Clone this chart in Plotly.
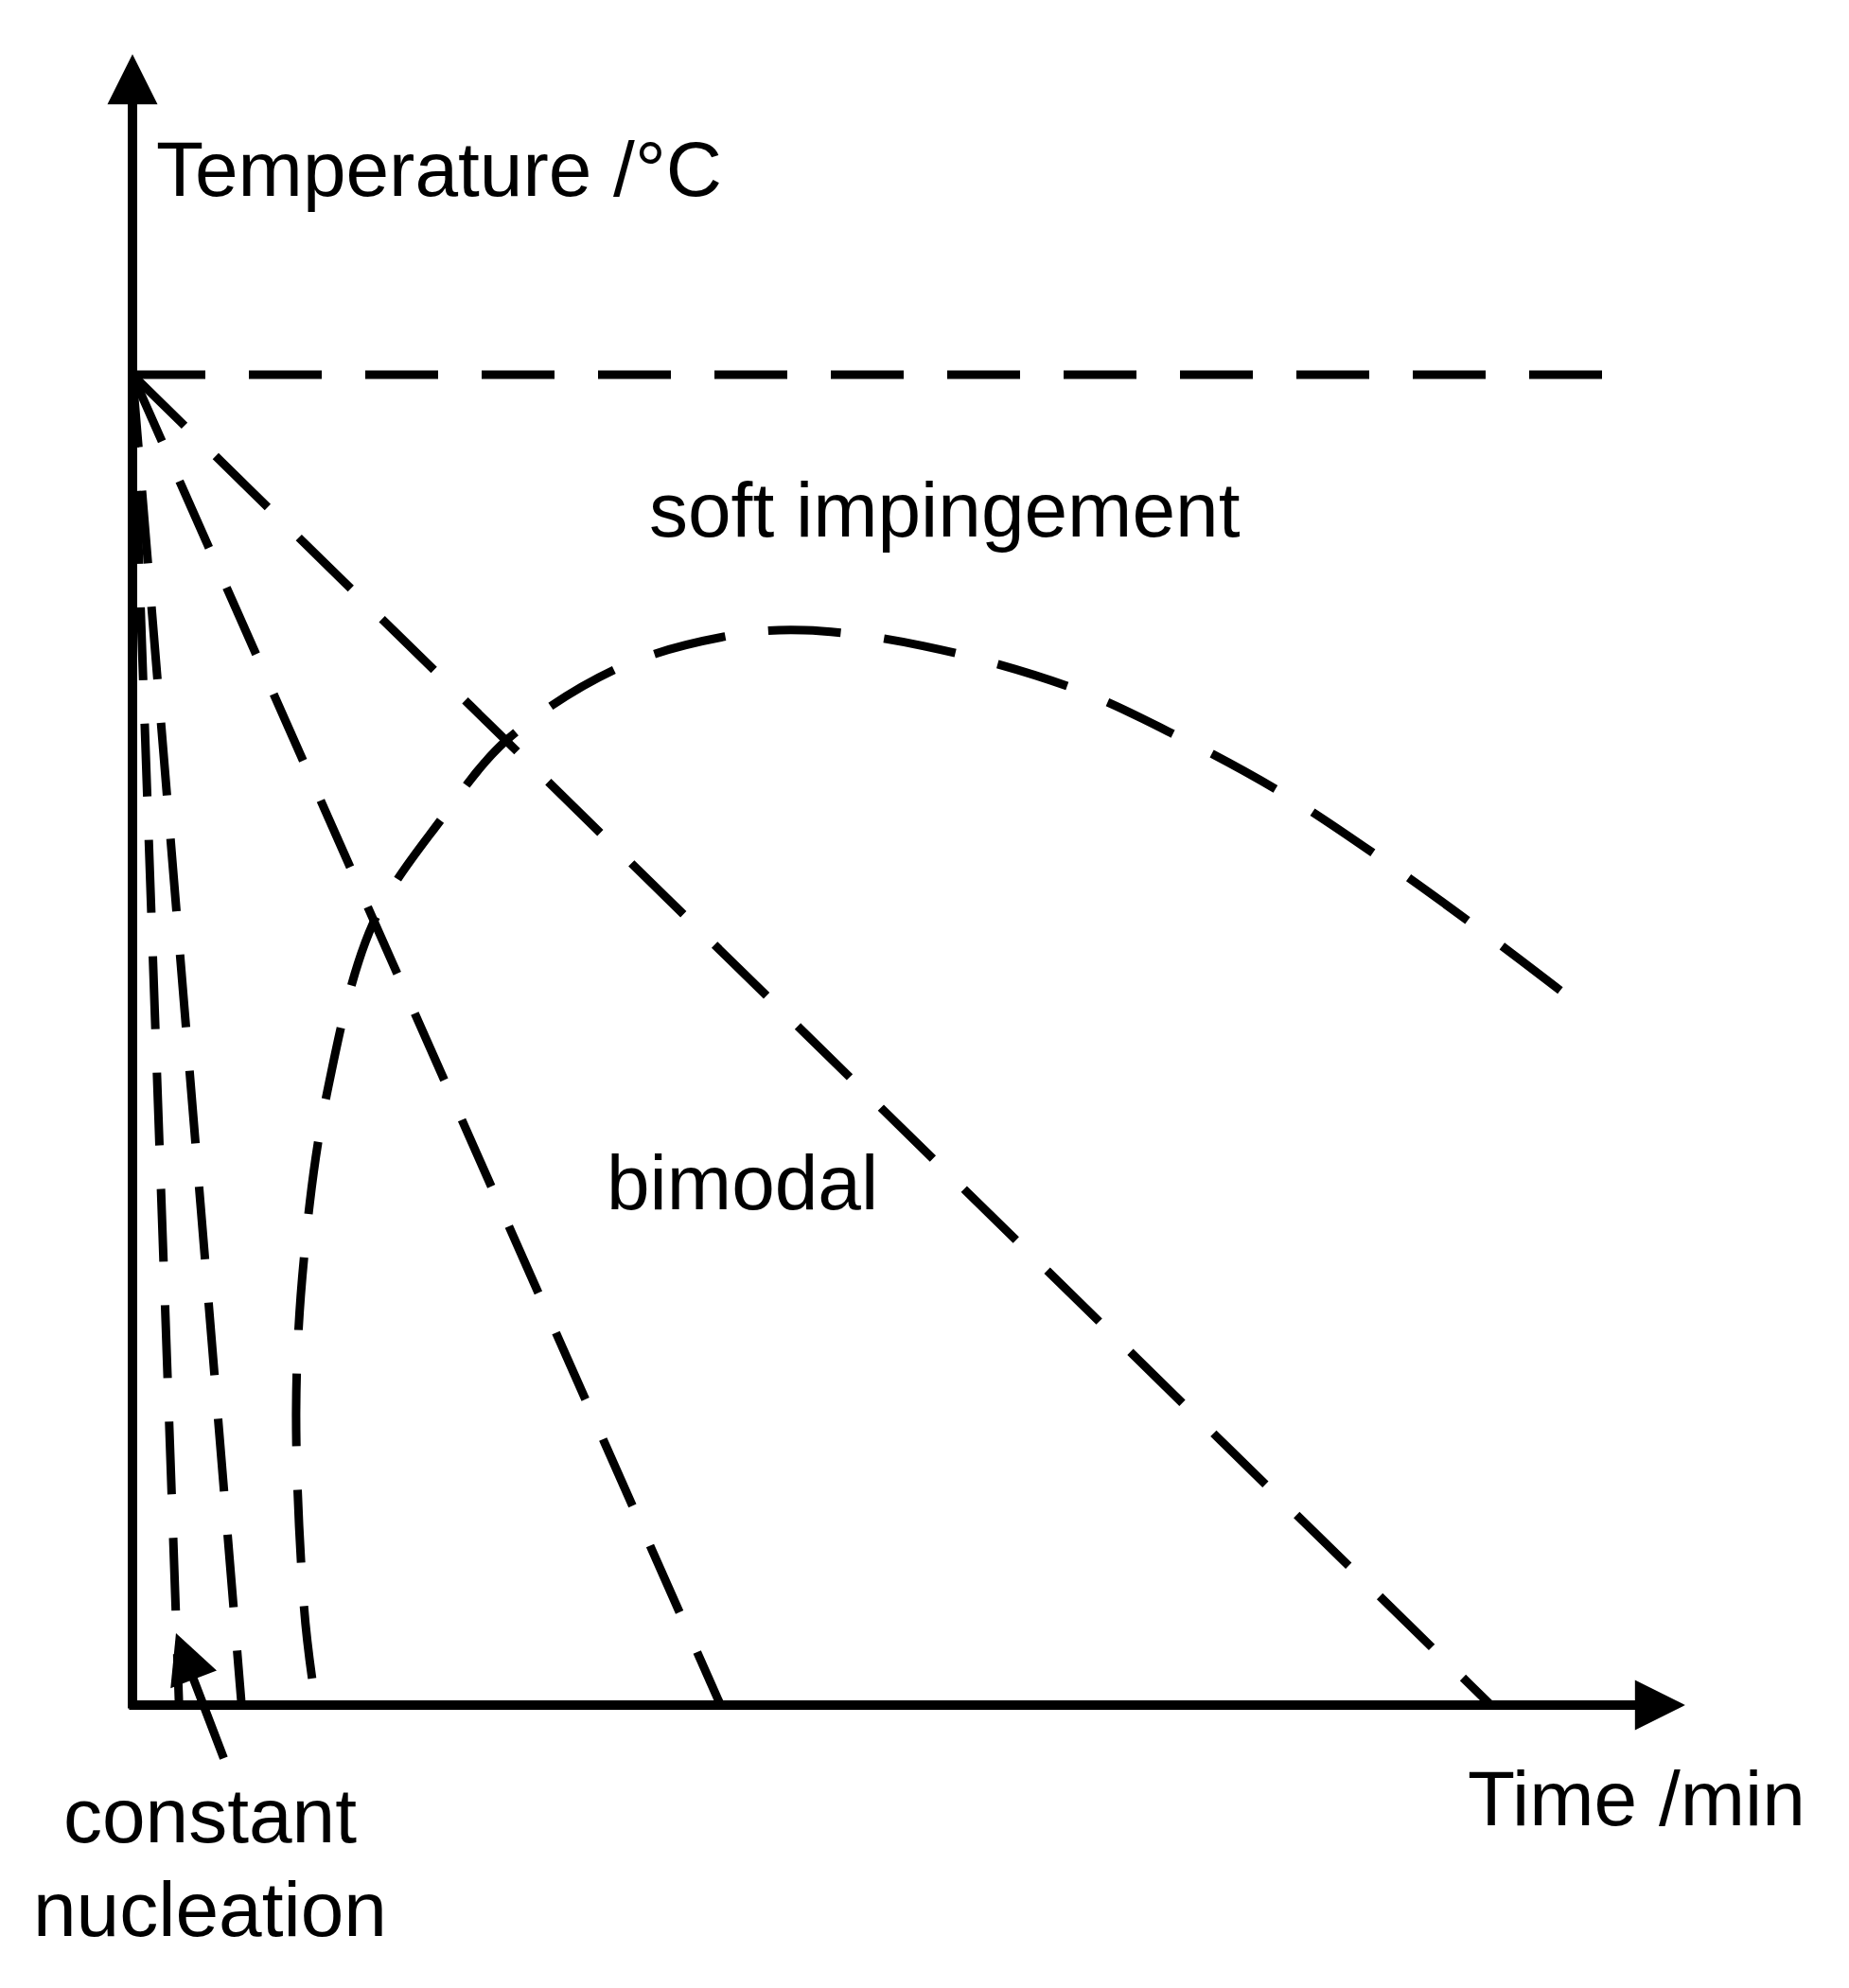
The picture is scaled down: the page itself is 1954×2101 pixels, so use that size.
import plotly.graph_objects as go

# sketch of cooling paths, arbitrary units: 100 = starting temperature level
T_START = 100

# horizontal dashed level
top_time = [0, 110.6]
top_temp = [T_START, T_START]

# straight cooling paths from the start point, time at which each reaches T = 0
path_end_time = [3.5, 8.2, 44.2, 102.1]

# the "nose" curve (bimodal / soft impingement boundary)
hump_time = [13.5, 12.9, 12.3, 12.9, 14.6, 18.1, 23.3, 28.2, 36.6, 45.0,
             50.5, 59.5, 70.8, 78.8, 86.5, 93.9, 101.0, 107.6]
hump_temp = [2.0, 7.3, 22.2, 33.7, 45.9, 58.8, 66.7, 72.6, 78.0, 80.4,
             80.8, 79.6, 76.4, 72.7, 68.5, 63.6, 58.5, 53.5]

# axis extents (arrow tips)
time_axis_end = 116.7
temp_axis_end = 124.1

W, H = 1954, 2101
PX = 14.06          # pixels per unit
X0, Y0 = 140, 1802  # pixel position of the origin

FONT = dict(family="Liberation Sans, Arial, sans-serif", size=82, color="black")
DASH = "77px,46px"

fig = go.Figure()

line_style = dict(color="black", width=9, dash=DASH)

fig.add_trace(go.Scatter(x=top_time, y=top_temp, mode="lines", line=line_style))

for end in path_end_time:
    fig.add_trace(go.Scatter(x=[0, end], y=[T_START, 0], mode="lines", line=line_style))

fig.add_trace(go.Scatter(
    x=hump_time, y=hump_temp, mode="lines",
    line=dict(color="black", width=9, dash=DASH, shape="spline", smoothing=1.0),
))


def arrow(x, y, ax, ay, width, size):
    fig.add_annotation(
        x=x, y=y, ax=ax, ay=ay,
        xref="x", yref="y", axref="x", ayref="y",
        text="", showarrow=True, arrowhead=2,
        arrowwidth=width, arrowsize=size, arrowcolor="black",
    )


# axes
arrow(0, temp_axis_end, 0, -0.36, 10, 1.06)
arrow(time_axis_end, 0, -0.36, 0, 10, 1.06)
# pointer to the constant nucleation paths
arrow(3.27, 5.4, 6.9, -4.1, 9, 1.16)


def label(text, x, y, anchor="left"):
    fig.add_annotation(x=x, y=y, xref="x", yref="y", text=text, showarrow=False,
                       xanchor=anchor, yanchor="middle", font=FONT)


label("Temperature /°C", 1.6, 115.5)
label("soft impingement", 38.7, 89.9)
label("bimodal", 35.5, 39.3)
label("Time /min", 100.2, -7.0)
label("constant", 5.83, -8.3, "center")
label("nucleation", 5.83, -15.3, "center")

fig.update_layout(
    width=W, height=H, autosize=False,
    margin=dict(l=0, r=0, t=0, b=0),
    paper_bgcolor="white", plot_bgcolor="white",
    showlegend=False,
    xaxis=dict(range=[-X0 / PX, (W - X0) / PX], visible=False, fixedrange=True),
    yaxis=dict(range=[(Y0 - H) / PX, Y0 / PX], visible=False, fixedrange=True),
)

fig.write_html("out.html", config={"displayModeBar": False},
               post_script="document.body.style.margin='0';")
